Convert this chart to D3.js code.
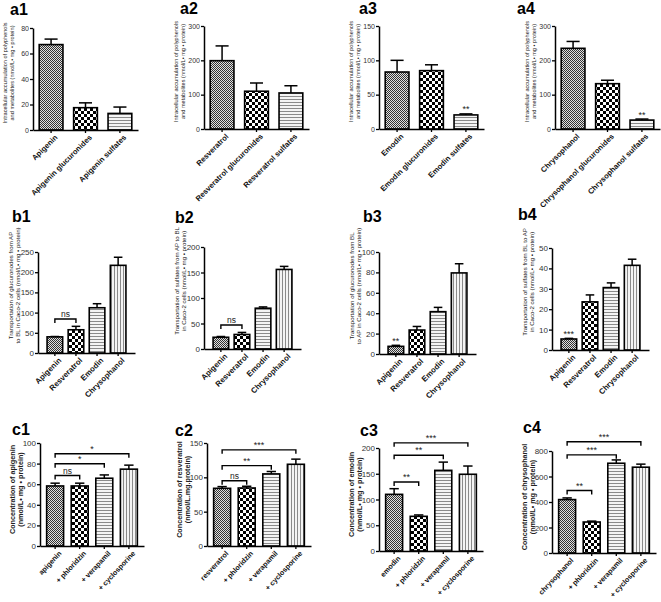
<!DOCTYPE html>
<html><head><meta charset="utf-8">
<script src="https://cdn.jsdelivr.net/npm/d3@7"></script>
<style>body{margin:0;background:#fff}svg{display:block;font-family:"Liberation Sans",Arial,sans-serif}</style>
</head><body><svg id="chart" width="661" height="602"></svg>
<script>
// ---------------- data ----------------
const a1Categories = ["Apigenin", "Apigenin glucuronides", "Apigenin sulfates"];
const a1Values = [67, 17.5, 13];
const a1Errors = [4.3, 3.8, 5];
const a2Categories = ["Resveratrol", "Resveratrol glucuronides", "Resveratrol sulfates"];
const a2Values = [199, 110, 105];
const a2Errors = [43, 24, 21];
const a3Categories = ["Emodin", "Emodin glucuronides", "Emodin sulfates"];
const a3Values = [83, 85, 20.5];
const a3Errors = [17, 8.5, 1.5];
const a4Categories = ["Chrysophanol", "Chrysophanol glucuronides", "Chrysophanol sulfates"];
const a4Values = [235, 132, 26];
const a4Errors = [20, 10, 3];
const bCategories = ["Apigenin", "Resveratrol", "Emodin", "Chrysophanol"];
const b1Values = [40, 57.5, 112, 217];
const b1Errors = [0.8, 8.5, 10, 20];
const b2Values = [23, 28.5, 80, 156];
const b2Errors = [1.5, 4, 2.5, 6];
const b3Values = [7.5, 23.5, 41.5, 79.5];
const b3Errors = [1, 3.5, 4.2, 9];
const b4Values = [5.4, 23.6, 30.6, 41.5];
const b4Errors = [0.3, 3.4, 2.3, 3];
const c1Categories = ["apigenin", "+ phloridzin", "+ verapamil", "+ cyclosporine"];
const c1Values = [58.3, 58.3, 65.8, 74.6];
const c1Errors = [2.7, 2.7, 3.2, 3.9];
const c2Categories = ["resveratrol", "+ phloridzin", "+ verapamil", "+ cyclosporine"];
const c2Values = [84, 84.5, 105, 119];
const c2Errors = [2.5, 2.5, 3.5, 7.5];
const c3Categories = ["emodin", "+ phloridzin", "+ verapamil", "+ cyclosporine"];
const c3Values = [110, 67.3, 156.6, 149];
const c3Errors = [11, 2.7, 16, 16];
const c4Categories = ["chrysophanol", "+ phloridzin", "+ verapamil", "+ cyclosporine"];
const c4Values = [419, 243, 704, 673];
const c4Errors = [13, 7, 26, 24];

// significance marks: star over a bar, brackets between bars
const a3Stars = [{bar: 2, text: "**"}];
const a4Stars = [{bar: 2, text: "**"}];
const b3Stars = [{bar: 0, text: "**"}];
const b4Stars = [{bar: 0, text: "***"}];
const b1Brackets = [{from: 0, to: 1, value: 84, text: "ns"}];
const b2Brackets = [{from: 0, to: 1, value: 47, text: "ns"}];
const c1Brackets = [{from: 0, to: 1, value: 68.4, text: "ns"}, {from: 0, to: 2, value: 79.8, text: "*"}, {from: 0, to: 3, value: 89.6, text: "*"}];
const c2Brackets = [{from: 0, to: 1, value: 95, text: "ns"}, {from: 0, to: 2, value: 117, text: "**"}, {from: 0, to: 3, value: 140, text: "***"}];
const c3Brackets = [{from: 0, to: 1, value: 134, text: "**"}, {from: 0, to: 2, value: 186, text: "**"}, {from: 0, to: 3, value: 210, text: "***"}];
const c4Brackets = [{from: 0, to: 1, value: 490, text: "**"}, {from: 0, to: 2, value: 770, text: "***"}, {from: 0, to: 3, value: 873, text: "***"}];

const aTitle = ["Intracellular accumulation of polyphenols", "and metabolites (nmol/L\u2022 mg \u2022 protein)"];
const b1Title = ["Transportation of glucuronodes from AP", "to BL in Caco-2 cells (nmol/L\u2022 mg \u2022 protein)"];
const b2Title = ["Transportation of sulfates from AP to BL", "in Caco-2 cells (nmol/L\u2022 mg \u2022 protein)"];
const b3Title = ["Transportation of glucuronodes from BL", "to AP in Caco-2 cells (nmol/L\u2022 mg \u2022 protein)"];
const b4Title = ["Transportation of sulfates from BL to AP", "in Caco-2 cells (nmol/L\u2022 mg \u2022 protein)"];
const c1Title = ["Concentration of apigenin", "(nmol/L\u2022 mg \u2022 protein)"];
const c2Title = ["Concentration of resveratrol", "(nmol/L.mg.protein)"];
const c3Title = ["Concentration of emodin", "(nmol/L\u2022 mg \u2022 protein)"];
const c4Title = ["Concentration of chrysophanol", "(nmol/L\u2022 mg \u2022 protein)"];

// ---------------- layout ----------------
const rows = {
  a: {width: 105, pi: 0.31, po: 0.18, tickFont: 7, catFont: 7.6, angle: 45, titleFont: 5.6, titleBold: false, titleOff: [-26, -19], titleShift: -6},
  b: {width: 97, pi: 0.26, po: 0.43, tickFont: 8, catFont: 7.8, angle: 45, titleFont: 6.1, titleBold: false, titleOff: [-25, -18], titleShift: -17},
  c: {width: 104, pi: 0.31, po: 0.27, tickFont: 8, catFont: 7.2, angle: 47, titleFont: 7.2, titleBold: true, titleOff: [-25, -17], titleShift: -5}
};
const panels = [
  {name: "a1", row: "a", cats: a1Categories, vals: a1Values, errs: a1Errors, yMax: 80, yStep: 20, x0: 33, yTop: 28, y0: 130, lx: 10, ly: 15, title: aTitle},
  {name: "a2", row: "a", cats: a2Categories, vals: a2Values, errs: a2Errors, yMax: 300, yStep: 100, x0: 204, yTop: 26, y0: 129, lx: 180, ly: 14, title: aTitle},
  {name: "a3", row: "a", cats: a3Categories, vals: a3Values, errs: a3Errors, yMax: 150, yStep: 50, x0: 379, yTop: 26, y0: 129, lx: 359, ly: 14, title: aTitle, stars: a3Stars},
  {name: "a4", row: "a", cats: a4Categories, vals: a4Values, errs: a4Errors, yMax: 300, yStep: 100, x0: 555, yTop: 26, y0: 129, lx: 517, ly: 14, title: aTitle, stars: a4Stars},
  {name: "b1", row: "b", cats: bCategories, vals: b1Values, errs: b1Errors, yMax: 250, yStep: 50, x0: 38, yTop: 252, y0: 353, lx: 12, ly: 222, title: b1Title, brackets: b1Brackets},
  {name: "b2", row: "b", cats: bCategories, vals: b2Values, errs: b2Errors, yMax: 200, yStep: 50, x0: 204, yTop: 247, y0: 349, lx: 175, ly: 223, title: b2Title, brackets: b2Brackets},
  {name: "b3", row: "b", cats: bCategories, vals: b3Values, errs: b3Errors, yMax: 100, yStep: 20, x0: 379, yTop: 252, y0: 354, lx: 363, ly: 222, title: b3Title, stars: b3Stars},
  {name: "b4", row: "b", cats: bCategories, vals: b4Values, errs: b4Errors, yMax: 50, yStep: 10, x0: 552, yTop: 248, y0: 350, lx: 518, ly: 220, title: b4Title, stars: b4Stars},
  {name: "c1", row: "c", cats: c1Categories, vals: c1Values, errs: c1Errors, yMax: 100, yStep: 20, x0: 40, yTop: 443, y0: 546, lx: 12, ly: 435, title: c1Title, brackets: c1Brackets},
  {name: "c2", row: "c", cats: c2Categories, vals: c2Values, errs: c2Errors, yMax: 150, yStep: 50, x0: 207, yTop: 443, y0: 546, lx: 175, ly: 436, title: c2Title, brackets: c2Brackets},
  {name: "c3", row: "c", cats: c3Categories, vals: c3Values, errs: c3Errors, yMax: 200, yStep: 50, x0: 379, yTop: 448, y0: 551, lx: 360, ly: 436, title: c3Title, brackets: c3Brackets},
  {name: "c4", row: "c", cats: c4Categories, vals: c4Values, errs: c4Errors, yMax: 800, yStep: 200, x0: 552, yTop: 451, y0: 553, lx: 523, ly: 433, title: c4Title, brackets: c4Brackets}
];

const svg = d3.select("#chart");
const defs = svg.append("defs");
// fine checker
const p1 = defs.append("pattern").attr("id", "pFine").attr("patternUnits", "userSpaceOnUse").attr("width", 2).attr("height", 2);
p1.append("rect").attr("width", 2).attr("height", 2).attr("fill", "#e0e0e0");
p1.append("rect").attr("width", 1).attr("height", 1).attr("fill", "#333");
p1.append("rect").attr("x", 1).attr("y", 1).attr("width", 1).attr("height", 1).attr("fill", "#333");
// coarse checker
const p2 = defs.append("pattern").attr("id", "pCoarse").attr("patternUnits", "userSpaceOnUse").attr("width", 6).attr("height", 6);
p2.append("rect").attr("width", 6).attr("height", 6).attr("fill", "#fff");
p2.append("rect").attr("width", 3).attr("height", 3).attr("fill", "#000");
p2.append("rect").attr("x", 3).attr("y", 3).attr("width", 3).attr("height", 3).attr("fill", "#000");
// horizontal stripes
const p3 = defs.append("pattern").attr("id", "pHoriz").attr("patternUnits", "userSpaceOnUse").attr("width", 4).attr("height", 3);
p3.append("rect").attr("width", 4).attr("height", 3).attr("fill", "#f4f4f4");
p3.append("rect").attr("width", 4).attr("height", 1).attr("fill", "#8a8a8a");
// vertical stripes
const p4 = defs.append("pattern").attr("id", "pVert").attr("patternUnits", "userSpaceOnUse").attr("width", 3).attr("height", 4);
p4.append("rect").attr("width", 3).attr("height", 4).attr("fill", "#f4f4f4");
p4.append("rect").attr("width", 1).attr("height", 4).attr("fill", "#8a8a8a");
const fills = ["url(#pFine)", "url(#pCoarse)", "url(#pHoriz)", "url(#pVert)"];

panels.forEach(p => {
  const r = rows[p.row];
  const g = svg.append("g");
  const x = d3.scaleBand().domain(p.cats).range([p.x0, p.x0 + r.width]).paddingInner(r.pi).paddingOuter(r.po);
  const y = d3.scaleLinear().domain([0, p.yMax]).range([p.y0, p.yTop]);
  const data = p.cats.map((c, i) => ({c, v: p.vals[i], e: p.errs[i], i}));

  // bars
  g.selectAll("rect.bar").data(data).join("rect").attr("class", "bar")
    .attr("x", d => x(d.c)).attr("width", x.bandwidth())
    .attr("y", d => y(d.v)).attr("height", d => y(0) - y(d.v))
    .attr("fill", d => fills[d.i]).attr("stroke", "#000").attr("stroke-width", 1.6);

  // error bars
  const cap = x.bandwidth() * 0.55;
  const eb = g.selectAll("g.err").data(data).join("g").attr("class", "err");
  eb.append("line").attr("x1", d => x(d.c) + x.bandwidth() / 2).attr("x2", d => x(d.c) + x.bandwidth() / 2)
    .attr("y1", d => y(d.v)).attr("y2", d => y(d.v + d.e)).attr("stroke", "#000").attr("stroke-width", 1.5);
  eb.append("line").attr("x1", d => x(d.c) + x.bandwidth() / 2 - cap / 2).attr("x2", d => x(d.c) + x.bandwidth() / 2 + cap / 2)
    .attr("y1", d => y(d.v + d.e)).attr("y2", d => y(d.v + d.e)).attr("stroke", "#000").attr("stroke-width", 1.5);

  // axes
  const ya = g.append("g").attr("transform", `translate(${p.x0},0)`)
    .call(d3.axisLeft(y).tickValues(d3.range(0, p.yMax + p.yStep / 2, p.yStep)).tickSize(3).tickSizeOuter(0).tickPadding(1));
  ya.select(".domain").attr("stroke-width", 1.5);
  ya.selectAll(".tick line").attr("stroke-width", 1.3);
  ya.selectAll("text").attr("font-size", r.tickFont).attr("fill", "#333").attr("font-family", "Liberation Sans, Arial");

  const xa = g.append("g").attr("transform", `translate(0,${p.y0})`)
    .call(d3.axisBottom(x).tickSize(3).tickSizeOuter(0));
  xa.select(".domain").attr("stroke-width", 1.5);
  xa.selectAll(".tick line").attr("stroke-width", 1.3);
  xa.selectAll("text").attr("font-size", r.catFont).attr("font-weight", "bold").attr("fill", "#111")
    .attr("font-family", "Liberation Sans, Arial")
    .attr("text-anchor", "end").attr("x", 0).attr("y", 0).attr("dy", "0.35em")
    .attr("transform", `translate(5,6) rotate(-${r.angle})`);

  // title
  const cy = (p.yTop + p.y0) / 2 + r.titleShift;
  p.title.forEach((t, k) => {
    g.append("text").attr("transform", `translate(${p.x0 + r.titleOff[k]},${cy}) rotate(-90)`)
      .attr("text-anchor", "middle").attr("font-size", r.titleFont)
      .attr("font-weight", r.titleBold ? "bold" : "normal").attr("fill", "#222").text(t);
  });

  // panel label
  g.append("text").attr("x", p.lx).attr("y", p.ly).attr("font-size", 16).attr("font-weight", "bold").text(p.name);

  // stars
  (p.stars || []).forEach(s => {
    const d = data[s.bar];
    g.append("text").attr("x", x(d.c) + x.bandwidth() / 2).attr("y", y(d.v + d.e) - 1.5)
      .attr("text-anchor", "middle").attr("font-size", 9).attr("fill", "#222").text(s.text);
  });
  // brackets
  (p.brackets || []).forEach(b => {
    const xa1 = x(p.cats[b.from]) + x.bandwidth() / 2;
    const xa2 = x(p.cats[b.to]) + x.bandwidth() / 2;
    const yy = y(b.value);
    g.append("path").attr("d", `M${xa1},${yy + 4}V${yy}H${xa2}V${yy + 4}`)
      .attr("fill", "none").attr("stroke", "#000").attr("stroke-width", 1.4);
    g.append("text").attr("x", (xa1 + xa2) / 2).attr("y", yy - 2)
      .attr("text-anchor", "middle").attr("font-size", b.text === "ns" ? 8.5 : 9).attr("fill", "#222").text(b.text);
  });
});
</script>
</body></html>
